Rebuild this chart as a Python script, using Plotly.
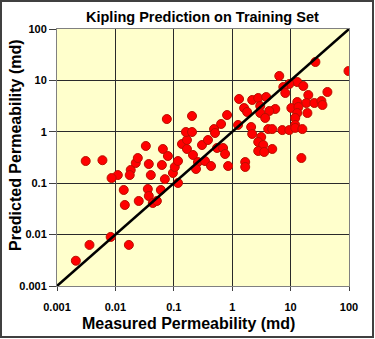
import plotly.graph_objects as go

measured = [0.0021, 0.0036, 0.0083, 0.017, 0.0031, 0.006, 0.011, 0.0086, 0.0139, 0.0145,
            0.0183, 0.0176, 0.0223, 0.0242, 0.0332, 0.0373, 0.0404, 0.0359, 0.0373, 0.0251,
            0.0437, 0.0513, 0.060, 0.0625, 0.065, 0.0703, 0.076, 0.0792, 0.0966, 0.104,
            0.118, 0.118, 0.138, 0.168, 0.161, 0.205, 0.205, 0.168, 0.213, 0.259,
            0.342, 0.24, 0.304, 0.385, 0.489, 0.508, 0.55, 0.645, 0.698, 0.755,
            0.817, 0.851, 0.434,
            26.6, 98, 6.4, 13.0, 9.5, 7.5, 16.5, 8.11, 42.7, 20.1,
            1.31, 2.2, 2.79, 3.82, 13.0, 18.6, 25.5, 33.7, 35.1, 3.02,
            1.6, 10.3, 13.6, 5.46, 4.31, 1.8, 3.02, 19.4, 13.0, 3.67,
            12.0, 1.26, 2.11, 12.0, 4.14, 4.85, 7.2, 9.5, 12.0, 15.9,
            2.2, 3.14, 2.79, 3.4, 4.85, 2.79, 15.3, 1.67, 1.67, 3.53]
predicted = [0.0031, 0.0063, 0.009, 0.0063, 0.27, 0.28, 0.144, 0.126, 0.0738, 0.0377,
             0.181, 0.144, 0.247, 0.309, 0.53, 0.236, 0.144, 0.0771, 0.0564, 0.0451,
             0.0412, 0.0451, 0.0738, 0.226, 0.463, 0.12, 1.77, 0.338, 0.158, 0.207,
             0.27, 0.101, 0.579, 0.692, 0.99, 0.99, 2.03, 0.463, 0.354, 0.258,
             0.27, 0.189, 0.553, 0.692, 1.13, 0.948, 0.484, 1.42, 0.484, 0.37,
             2.12, 0.216, 0.216,
             22.8, 15.2, 12.2, 9.3, 8.51, 7.44, 7.78, 5.69, 5.95, 5.2,
             4.35, 4.16, 4.55, 4.75, 3.8, 3.63, 3.63, 3.97, 3.32, 3.18,
             2.9, 2.9, 3.04, 2.78, 2.54, 2.43, 2.32, 2.32, 2.32, 1.86,
             1.86, 1.36, 1.24, 1.36, 1.13, 1.13, 1.08, 1.08, 1.19, 1.13,
             0.906, 0.792, 0.633, 0.553, 0.463, 0.423, 0.309, 0.258, 0.207, 0.405]

line_x = [0.001, 100]
line_y = [0.001, 100]

tick_vals = [0.001, 0.01, 0.1, 1, 10, 100]
tick_text = ["0.001", "0.01", "0.1", "1", "10", "100"]

title_text = "Kipling Prediction on Training Set"
x_title = "Measured Permeability (md)"
y_title = "Predicted Permeability (md)"

FONT = "Arial, 'Liberation Sans', sans-serif"

fig = go.Figure()
fig.add_trace(go.Scatter(
    x=measured, y=predicted, mode="markers",
    marker=dict(size=9, color="#FF0000", line=dict(color="#B81000", width=1)),
    showlegend=False, hoverinfo="skip"))
fig.add_trace(go.Scatter(
    x=line_x, y=line_y, mode="lines",
    line=dict(color="#000000", width=2.5),
    showlegend=False, hoverinfo="skip", cliponaxis=True))

axis_common = dict(
    type="log", tickvals=tick_vals, ticktext=tick_text,
    showgrid=True, gridcolor="#2a2a2a", gridwidth=1,
    showline=True, linecolor="#808080", linewidth=1, mirror=True,
    ticks="outside", tickcolor="#404040",
    tickfont=dict(family=FONT, size=11, color="#000000", weight="bold"),
    zeroline=False,
)

fig.update_xaxes(range=[-3, 2], ticklen=4, ticklabelstandoff=7, **axis_common)
fig.update_yaxes(range=[-3, 2], ticklen=7, **axis_common)

L, R, T, B = 57, 26, 29, 53
W, H = 375, 339
pw, ph = W - L - R, H - T - B

def px(xp):
    return (xp - L) / pw

def py(yp):
    return (H - B - yp) / ph

fig.update_layout(
    width=W, height=H,
    margin=dict(l=L, r=R, t=T, b=B, pad=0),
    paper_bgcolor="#FFFFFF", plot_bgcolor="#FFFFCC",
    font=dict(family=FONT, color="#000000"),
    annotations=[
        dict(text=title_text, x=px(202), y=py(17), xref="paper", yref="paper",
             showarrow=False, xanchor="center", yanchor="middle",
             font=dict(family=FONT, size=14.5, weight="bold", color="#000000")),
        dict(text=x_title, x=px(188.5), y=py(323), xref="paper", yref="paper",
             showarrow=False, xanchor="center", yanchor="middle",
             font=dict(family=FONT, size=16, weight="bold", color="#000000")),
        dict(text=y_title, x=px(15), y=py(145), xref="paper", yref="paper",
             showarrow=False, xanchor="center", yanchor="middle", textangle=-90,
             font=dict(family=FONT, size=16, weight="bold", color="#000000")),
    ],
    shapes=[
        dict(type="rect", xref="paper", yref="paper",
             x0=px(1), x1=px(373), y0=py(337), y1=py(1),
             line=dict(color="#404040", width=2), fillcolor="rgba(0,0,0,0)",
             layer="above"),
    ],
)

fig.write_html("out.html")
